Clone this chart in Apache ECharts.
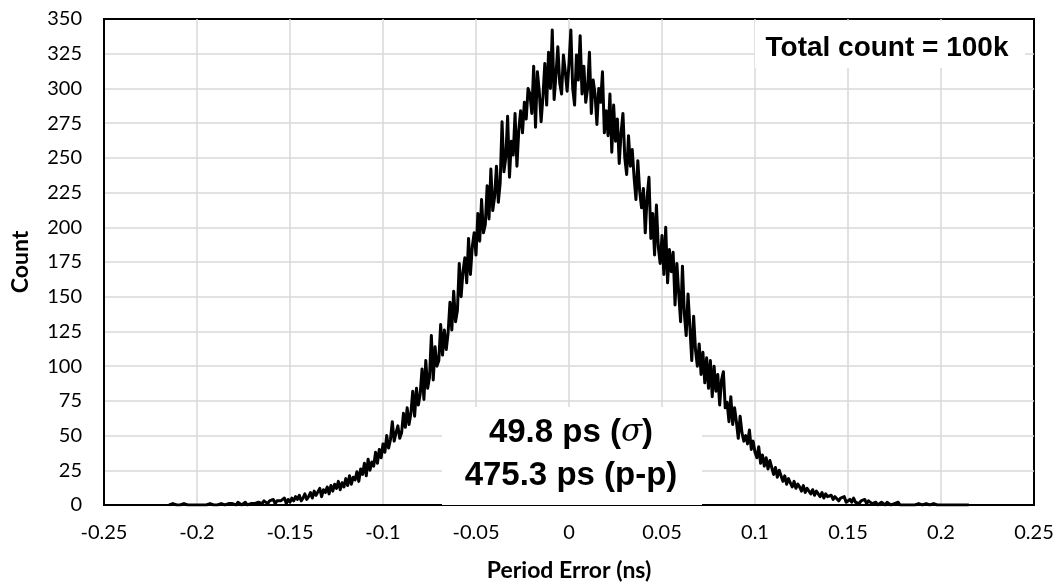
<!DOCTYPE html>
<html>
<head>
<meta charset="utf-8">
<script src="https://cdn.jsdelivr.net/npm/echarts@6/dist/echarts.min.js"></script>
<style>
  html, body { margin: 0; padding: 0; background: #fff; }
  #chart { width: 1059px; height: 587px; }
</style>
</head>
<body>
<div id="chart"></div>
<script>
// ---- data ----
const binStart = -0.215;   // ns, first bin centre
const binWidth = 0.001;    // ns
const counts = [
  0,0,1,0,0,   0,0,0,1,0,   0,1,0,0,0,   1,0,0,0,1,   0,0,1,0,0,
  1,0,0,1,0,   0,1,1,0,1,   1,0,2,1,0,   1,2,0,1,1,   2,1,0,2,1,
  1,3,2,1,3,   2,4,1,3,2,   3,2,5,1,4,   2,5,3,6,4,   7,3,5,8,4,
  6,9,5,10,7,  8,12,6,11,9, 13,8,14,10,15, 12,17,11,16,13, 19,14,21,15,20,
  18,24,17,26,22, 30,21,33,25,31, 28,38,30,40,34,
  44,38,50,41,47, 60,46,52,57,48, 52,66,56,70,58, 66,82,64,84,72, 80,98,76,104,84,
  92,122,90,114,100, 104,130,108,126,112, 124,146,126,154,132, 140,174,150,168,178, 160,192,166,186,196,
  180,210,190,220,196, 202,230,206,242,212, 222,244,218,232,276, 240,250,280,236,262, 252,282,244,270,284,
  268,290,278,300,296, 282,316,272,312,298, 276,294,318,288,326, 300,342,292,310,330, 304,296,324,312,298,
  318,342,300,288,324, 306,338,296,316,290, 300,326,282,306,296, 274,300,290,312,268, 284,266,296,254,288,
  262,278,246,268,282, 250,238,266,244,256, 236,220,248,226,214, 228,196,222,236,192, 210,180,216,186,174,
  194,166,200,160,184, 168,182,144,174,152, 132,172,138,122,152, 128,104,136,112,100, 116,94,110,88,106,
  84,104,78,100,82, 94,72,90,96,70, 74,60,78,58,70, 60,48,64,52,46, 50,44,54,40,46,
  38,34,42,30,36, 28,34,26,32,27, 22,27,20,25,21, 17,21,15,19,16, 13,17,12,15,13,
  10,14,9,12,11, 8,11,7,10,8, 6,9,5,8,6, 5,7,4,6,5, 3,5,4,6,2,
  3,4,2,5,2, 3,1,3,2,4, 1,3,2,1,2, 2,0,1,2,1, 0,2,1,0,1,
  1,0,2,0,1, 0,1,0,1,0, 1,0,0,1,0, 0,0,1,0,0, 0,1,0,0,1,
  0,0,0,1,0, 0,0,1,0,0, 0,1,0,0,0,
  0
];
const xRange = [-0.25, 0.25];
const xStep = 0.05;
const yRange = [0, 350];
const yStep = 25;
const xTitle = 'Period Error (ns)';
const yTitle = 'Count';
const totalLabel = 'Total count = 100k';
const sigmaValue = '49.8 ps';
const ppLabel = '475.3 ps (p-p)';

// ---- build series ----
const seriesData = counts.map((c, i) => [+(binStart + i * binWidth).toFixed(4), c]);

const chart = echarts.init(document.getElementById('chart'), null, { renderer: 'canvas' });
const tickFont = 'Lato, "Open Sans", sans-serif';
const grid = { left: 104, right: 25, top: 19, bottom: 80 };

chart.setOption({
  animation: false,
  backgroundColor: '#fff',
  grid: Object.assign({ show: true, borderColor: '#000', borderWidth: 2, backgroundColor: 'transparent', containLabel: false }, grid),
  xAxis: {
    type: 'value', min: xRange[0], max: xRange[1], interval: xStep,
    name: xTitle, nameLocation: 'middle', nameGap: 54,
    nameTextStyle: { fontFamily: tickFont, fontWeight: 'bold', fontSize: 23, color: '#000' },
    axisLine: { show: true, onZero: false, lineStyle: { color: '#000', width: 2 } },
    axisTick: { show: false },
    axisLabel: { fontFamily: tickFont, fontSize: 20, color: '#000', margin: 18 },
    splitLine: { show: true, showMinLine: false, showMaxLine: false, lineStyle: { color: '#d9d9d9', width: 1.5 } }
  },
  yAxis: {
    type: 'value', min: yRange[0], max: yRange[1], interval: yStep,
    name: yTitle, nameLocation: 'middle', nameGap: 72, nameRotate: 90,
    nameTextStyle: { fontFamily: tickFont, fontWeight: 'bold', fontSize: 23, color: '#000' },
    axisLine: { show: true, onZero: false, lineStyle: { color: '#000', width: 2 } },
    axisTick: { show: false },
    axisLabel: { fontFamily: tickFont, fontSize: 20, color: '#000', margin: 22 },
    splitLine: { show: true, showMinLine: false, showMaxLine: false, lineStyle: { color: '#d9d9d9', width: 1.5 } }
  },
  series: [{
    type: 'line',
    data: seriesData,
    showSymbol: false,
    symbol: 'none',
    sampling: false,
    smooth: false,
    z: 3,
    lineStyle: { color: '#000', width: 3, join: 'round' }
  }],
  graphic: [
    { type: 'rect', z: 10, shape: { x: 755, y: 21, width: 270, height: 47 }, style: { fill: '#fff' } },
    { type: 'text', z: 11, x: 887, y: 48,
      style: { text: totalLabel, fontFamily: '"Liberation Sans", Arial, sans-serif', fontWeight: 'bold', fontSize: 28, fill: '#000', align: 'center', verticalAlign: 'middle' } },
    { type: 'rect', z: 10, shape: { x: 442, y: 407, width: 260, height: 98 }, style: { fill: '#fff' } },
    { type: 'text', z: 11, x: 571, y: 433,
      style: {
        text: '{b|' + sigmaValue + ' (}{s|σ}{b|)}',
        align: 'center', verticalAlign: 'middle',
        rich: {
          b: { fontFamily: '"Liberation Sans", Arial, sans-serif', fontWeight: 'bold', fontSize: 33, fill: '#000' },
          s: { fontFamily: '"DejaVu Serif", serif', fontStyle: 'italic', fontSize: 31, fill: '#000' }
        }
      } },
    { type: 'text', z: 11, x: 571, y: 476,
      style: { text: ppLabel, fontFamily: '"Liberation Sans", Arial, sans-serif', fontWeight: 'bold', fontSize: 33, fill: '#000', align: 'center', verticalAlign: 'middle' } }
  ]
});
</script>
</body>
</html>
